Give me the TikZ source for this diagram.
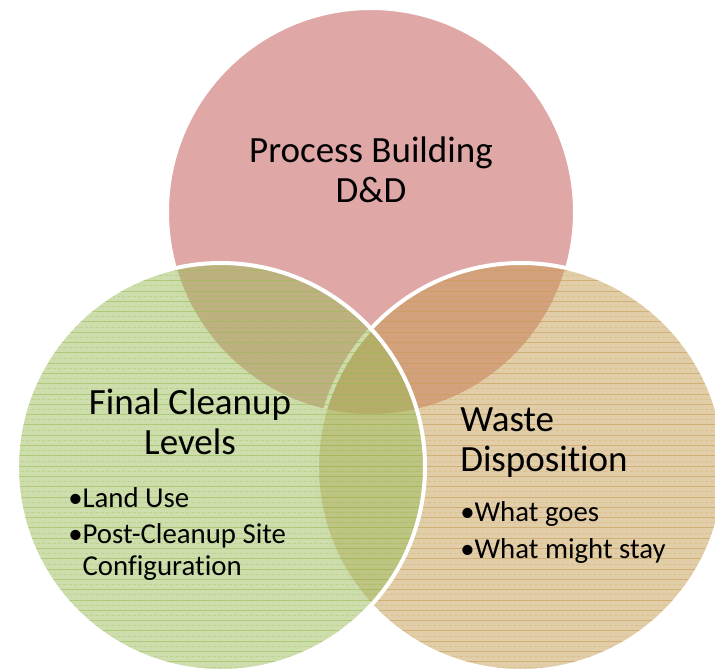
\documentclass[tikz,border=0pt]{standalone}
\usepackage{fontspec}
\setmainfont{Carlito}[Ligatures={NoCommon}]
\definecolor{pbdred}{RGB}{192,80,77}
\definecolor{fclgreen}{RGB}{155,187,89}
\definecolor{wdtan}{RGB}{198,156,84}
\begin{document}
\begin{tikzpicture}[x=0.75pt,y=-0.75pt,
  vennfill/.style={fill=#1,fill opacity=0.5},
  vennrim/.style={draw=white,line width=3pt},
  hatch/.style={draw=#1,draw opacity=0.6,line width=0.6pt},
  hatchfaint/.style={draw=#1,draw opacity=0.3,line width=0.5pt,dash pattern=on 2.5pt off 1.5pt},
  title/.style={font=\fontsize{27.75}{30}\selectfont,inner sep=0pt},
  items/.style={font=\fontsize{21.6}{24}\selectfont,inner sep=0pt,align=left}]
\useasboundingbox (0,0) rectangle (715,672);
\clip (0,0) rectangle (715,672);
\coordinate (pbd) at (371,212);
\coordinate (wd) at (521,467);
\coordinate (fcl) at (221,467);
% process building circle
\fill[vennfill=pbdred] (pbd) circle (204);
\draw[vennrim] (pbd) circle (204);
% waste disposition circle
\fill[vennfill=wdtan] (wd) circle (204);
\begin{scope}
  \clip (wd) circle (204);
  \foreach \y in {260,270.3,...,680} {
    \draw[hatch=wdtan] (310,\y) -- (730,\y);
    \draw[hatchfaint=wdtan] (310,\y+5.15) -- (730,\y+5.15);
  }
\end{scope}
\draw[vennrim] (wd) circle (204);
% final cleanup circle
\fill[vennfill=fclgreen] (fcl) circle (204);
\begin{scope}
  \clip (fcl) circle (204);
  \foreach \y in {260,270.3,...,680} {
    \draw[hatch=fclgreen] (10,\y) -- (430,\y);
    \draw[hatchfaint=fclgreen] (10,\y+5.15) -- (430,\y+5.15);
  }
\end{scope}
\draw[vennrim] (fcl) circle (204);
% labels
\node[title,align=center] (pbdtext) at (371,170) {Process Building\\D\&D};
\node[title,align=center] (fcltext) at (190,422) {Final Cleanup\\Levels};
\node[title,align=left,anchor=west] (wdtext) at (460,443) {Waste\\Disposition};
\node[items,anchor=west] (fclitems) at (68,534) {•Land Use\\[3pt]•Post-Cleanup Site\\\hphantom{•}Configuration};
\node[items,anchor=west] (wditems) at (460,532) {•What goes\\[3.75pt]•What might stay};
\end{tikzpicture}
\end{document}
